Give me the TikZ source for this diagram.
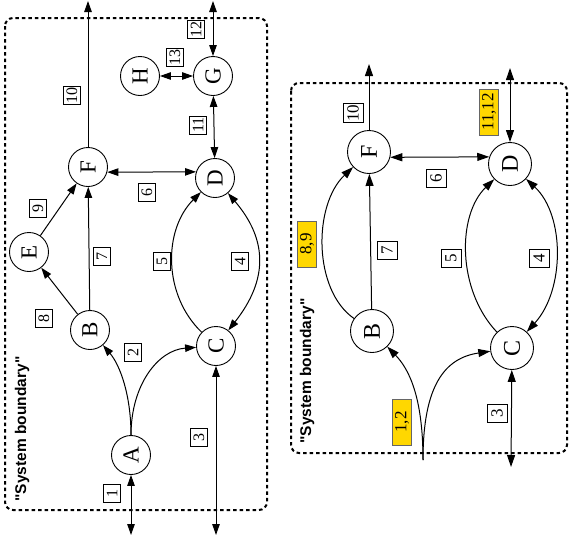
\documentclass[tikz,border=0pt]{standalone}
\usepackage{fontspec}
\setmainfont{Liberation Serif}
\newfontfamily\lsans{Liberation Sans}
\usetikzlibrary{arrows.meta}
\definecolor{lblyellow}{HTML}{FFD700}
\begin{document}
\begin{tikzpicture}[x=1pt,y=-1pt,
  every node/.style={inner sep=0pt},
  stn/.style={circle,draw,line width=0.9pt,minimum size=39pt,font=\fontsize{23}{23}\selectfont},
  stnb/.style={stn,minimum size=43pt,font=\fontsize{24}{24}\selectfont},
  lbl/.style={draw,line width=0.6pt,rotate=90,minimum width=18pt,minimum height=17pt,inner sep=1pt,font=\fontsize{16}{16}\selectfont},
  lblb/.style={lbl,minimum width=18pt,minimum height=20pt,font=\fontsize{17}{17}\selectfont},
  ylbl/.style={draw=black!60,fill=lblyellow,line width=0.6pt,rotate=90,minimum width=46pt,minimum height=19pt,font=\fontsize{17}{17}\selectfont},
  conn/.style={line width=1pt,>={Triangle[length=11pt,width=7.5pt]}},
  connb/.style={line width=1pt,>={Triangle[length=12pt,width=8pt]}},
  bnd/.style={line width=2pt,dash pattern=on 3.5pt off 3pt,rounded corners=8pt},
  sysl/.style={rotate=90,font=\lsans\bfseries\fontsize{15.5}{15.5}\selectfont}
]
\useasboundingbox (0,0) rectangle (571,547);
% boundaries
\draw[bnd] (5,18) rectangle (267,510);
\draw[bnd] (291,83) rectangle (567,453);
\node[sysl] (sb1) at (22,429) {"System boundary"};
\node[sysl] (sb2) at (307,371) {"System boundary"};

% ---- left diagram ----
\node[stn] (A) at (131,455) {\rotatebox{90}{A}};
\node[stn] (B) at (90,330) {\rotatebox{90}{B}};
\node[stn] (C) at (216,346) {\rotatebox{90}{C}};
\node[stn] (D) at (215,178) {\rotatebox{90}{D}};
\node[stn] (E) at (29,252) {\rotatebox{90}{E}};
\node[stn] (F) at (88,167) {\rotatebox{90}{F}};
\node[stn] (G) at (213,76) {\rotatebox{90}{G}};
\node[stn] (H) at (140,76) {\rotatebox{90}{H}};
\coordinate (a1) at (131,535);
\coordinate (c1) at (216,535);
\coordinate (f1) at (88,1);
\coordinate (g1) at (213,1);

\draw[conn,<->] (A) -- (a1);
\draw[conn,->] (A.north) .. controls (131,395) and (120,365) .. (B);
\draw[conn,->] (A.north) .. controls (131,385) and (158,350) .. (C);
\draw[conn,<->] (C) -- (c1);
\draw[conn,<->] (C) .. controls (268,280) and (268,240) .. (D);
\draw[conn,->] (C) .. controls (163,295) and (163,230) .. (D);
\draw[conn,<->] (F.-15) -- (D.162);
\draw[conn,->] (B) -- (F);
\draw[conn,->] (B) -- (E);
\draw[conn,->] (E) -- (F);
\draw[conn,->] (F) -- (f1);
\draw[conn,<->] (D) -- (G);
\draw[conn,<->] (G) -- (g1);
\draw[conn,<->] (H) -- (G);

\node[lbl] (l1) at (112,493) {1};
\node[lbl] (l2) at (133,352) {2};
\node[lbl] (l3) at (199,437) {3};
\node[lbl] (l4) at (240,261) {4};
\node[lbl] (l5) at (162,261) {5};
\node[lbl] (l6) at (147,192) {6};
\node[lbl] (l7) at (102,256) {7};
\node[lbl] (l8) at (44,318) {8};
\node[lbl] (l9) at (38,208) {9};
\node[lbl] (l10) at (72,95) {10};
\node[lbl] (l11) at (198,125) {11};
\node[lbl] (l12) at (196,29) {12};
\node[lbl] (l13) at (175,57) {13};

% ---- right diagram ----
\node[stnb] (B2) at (372,331) {\rotatebox{90}{B}};
\node[stnb] (C2) at (512,348) {\rotatebox{90}{C}};
\node[stnb] (D2) at (510,164) {\rotatebox{90}{D}};
\node[stnb] (F2) at (369,152) {\rotatebox{90}{F}};
\coordinate (f2t) at (369,64);
\coordinate (d2t) at (510,68);
\coordinate (in12) at (423,460);
\coordinate (c2b) at (511,467);

\draw[connb,->] (F2) -- (f2t);
\draw[connb,<->] (D2) -- (d2t);
\draw[connb,<->] (F2.-14) -- (D2.161);
\draw[connb,->] (B2) -- (F2);
\draw[connb,->] (B2) .. controls (313,290) and (313,205) .. (F2);
\draw[connb,->] (C2) .. controls (457,290) and (457,215) .. (D2);
\draw[connb,<->] (D2) .. controls (565,215) and (565,290) .. (C2);
\draw[connb,->] (in12) .. controls (423,395) and (408,368) .. (B2);
\draw[connb,->] (in12) .. controls (423,385) and (445,358) .. (C2);
\draw[connb,<->] (C2) -- (c2b);

\node[lblb] (r10) at (353,113) {10};
\node[ylbl] (r1112) at (489,112) {11,12};
\node[lblb] (r6) at (436,178) {6};
\node[lblb] (r7) at (387,250) {7};
\node[ylbl] (r89) at (307,244) {8,9};
\node[lblb] (r5) at (451,258) {5};
\node[lblb] (r4) at (539,258) {4};
\node[ylbl] (r12) at (402,422) {1,2};
\node[lblb] (r3) at (497,413) {3};
\end{tikzpicture}
\end{document}
